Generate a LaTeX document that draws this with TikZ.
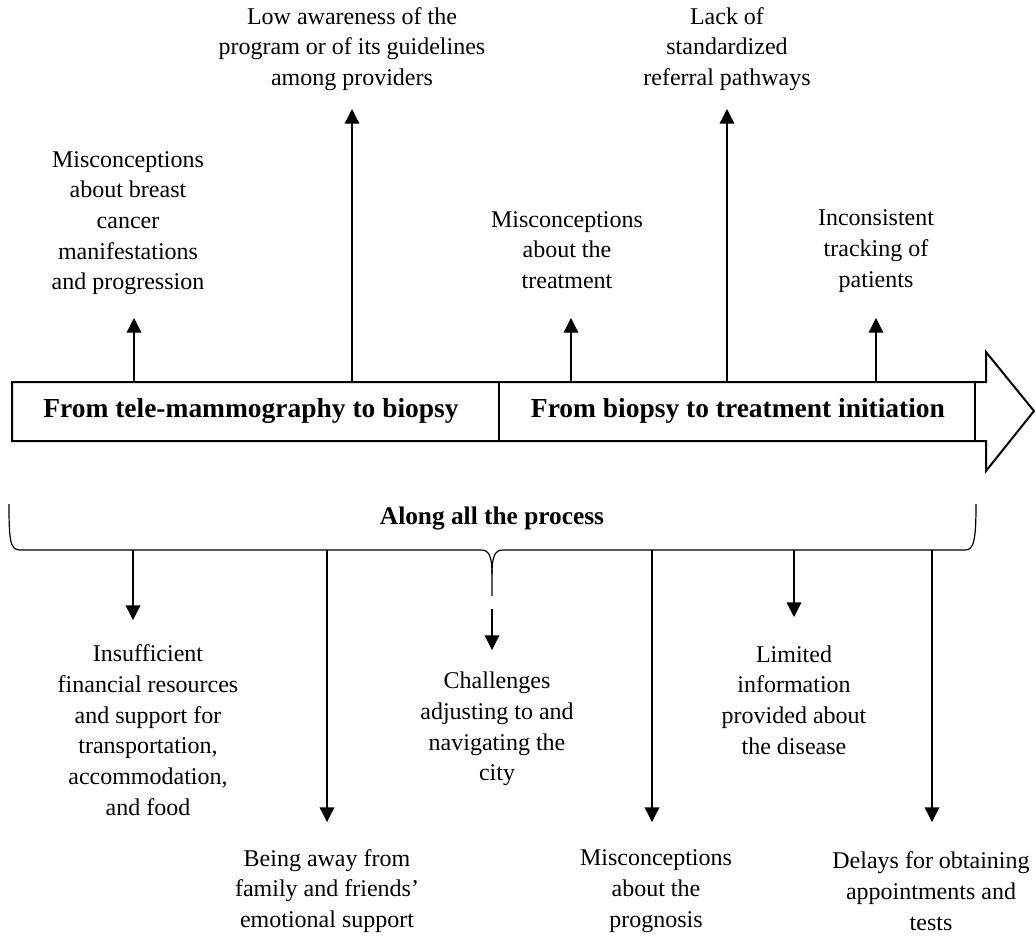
\documentclass[tikz,border=0pt]{standalone}
\usepackage{fontspec}
\setmainfont{Liberation Serif}
\usetikzlibrary{arrows.meta}
\begin{document}
\begin{tikzpicture}[x=0.75pt,y=-0.75pt,
  lbl/.style={align=center, font=\fontsize{18}{23}\selectfont, inner sep=0pt},
  hd/.style={font=\fontsize{20.6}{24}\selectfont\bfseries, inner sep=0pt},
  hdb/.style={font=\fontsize{19}{23}\selectfont\bfseries, inner sep=0pt},
  arr/.style={-{Triangle[width=11pt,length=11pt]}, line width=1pt},
  boxline/.style={line width=1.5pt, line join=miter},
  brace/.style={line width=0.9pt}]
\useasboundingbox (0,0) rectangle (1036,940);
% main process arrow
\draw[boxline] (12,382) -- (986,382) -- (986,352) -- (1034,411) -- (986,471) -- (986,441) -- (12,441) -- cycle;
\draw[boxline] (499,382) -- (499,441);
\draw[boxline] (975,382) -- (975,441);
\node[hd] (s1) at (251,411) {From tele-mammography to biopsy};
\node[hd] (s2) at (738,411) {From biopsy to treatment initiation};
% upward barriers
\node[lbl] (u1) at (128,223) {Misconceptions\\about breast\\cancer\\manifestations\\and progression};
\node[lbl] (u2) at (352,49) {Low awareness of the\\program or of its guidelines\\among providers};
\node[lbl] (u3) at (567,250) {Misconceptions\\about the\\treatment};
\node[lbl] (u4) at (727,49) {Lack of\\standardized\\referral pathways};
\node[lbl] (u5) at (876,251) {Inconsistent\\tracking of\\patients};
\coordinate (b1) at (134,382); \coordinate (e1) at (134,318);
\coordinate (b2) at (352,382); \coordinate (e2) at (352,109);
\coordinate (b3) at (571,382); \coordinate (e3) at (571,318);
\coordinate (b4) at (727,382); \coordinate (e4) at (727,109);
\coordinate (b5) at (876,382); \coordinate (e5) at (876,318);
\draw[arr] (b1) -- (e1);
\draw[arr] (b2) -- (e2);
\draw[arr] (b3) -- (e3);
\draw[arr] (b4) -- (e4);
\draw[arr] (b5) -- (e5);
% brace
\node[hdb] (along) at (492,518) {Along all the process};
\draw[brace] (9,504) .. controls (9,540) and (10,550) .. (20,550) -- (481,550)
  .. controls (489,550) and (492,556) .. (492,574) -- (492,596);
\draw[brace] (492,574) .. controls (492,556) and (495,550) .. (503,550) -- (965,550)
  .. controls (974,550) and (976,540) .. (976,504);
% downward barriers
\node[lbl] (d1) at (148,730) {Insufficient\\financial resources\\and support for\\transportation,\\accommodation,\\and food};
\node[lbl] (d2) at (327,891) {Being away from\\family and friends'\\emotional support};
\node[lbl] (d3) at (497,729) {Challenges\\adjusting to and\\navigating the\\city};
\node[lbl] (d4) at (656,891) {Misconceptions\\about the\\prognosis};
\node[lbl] (d5) at (794,700) {Limited\\information\\provided about\\the disease};
\node[lbl] (d6) at (931,891) {Delays for obtaining\\appointments and\\tests};
\coordinate (f1) at (133,550); \coordinate (g1) at (133,620);
\coordinate (f2) at (327,550); \coordinate (g2) at (327,822);
\coordinate (f3) at (492,609); \coordinate (g3) at (492,650);
\coordinate (f4) at (652,550); \coordinate (g4) at (652,822);
\coordinate (f5) at (794,550); \coordinate (g5) at (794,617);
\coordinate (f6) at (932,550); \coordinate (g6) at (932,822);
\draw[arr] (f1) -- (g1);
\draw[arr] (f2) -- (g2);
\draw[arr] (f3) -- (g3);
\draw[arr] (f4) -- (g4);
\draw[arr] (f5) -- (g5);
\draw[arr] (f6) -- (g6);
\end{tikzpicture}
\end{document}
